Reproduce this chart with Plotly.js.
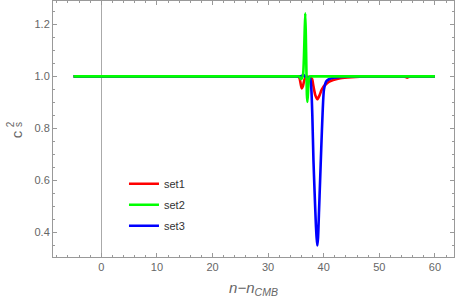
<!DOCTYPE html>
<html><head><meta charset="utf-8">
<script src="https://cdn.plot.ly/plotly-3.0.1.min.js"></script>
<style>html,body{margin:0;padding:0;background:#fff;}#chart{width:457px;height:305px;}</style>
</head><body><div id="chart"></div>
<script>
// set1 (red)
const set1X = [-5, 20, 34.8, 35.4, 35.65, 35.85, 36.05, 36.25, 36.5, 36.8, 37.2, 37.6, 37.9, 38.15, 38.5, 38.85, 39.2, 39.6, 40.0, 40.5, 41.1, 41.7, 43.0, 45.0, 48.0, 51.0, 54.0, 54.4, 54.8, 55.0, 55.2, 55.6, 56.0, 60];
const set1Y = [1, 1, 1, 1, 0.993, 0.972, 0.954, 0.962, 0.985, 0.997, 0.998, 0.996, 0.99, 0.962, 0.927, 0.912, 0.925, 0.947, 0.962, 0.972, 0.981, 0.986, 0.993, 0.997, 1, 1, 1, 1, 0.997, 0.995, 0.997, 1, 1, 1];
// set2 (green)
const set2X = [-5, 20, 35.0, 35.6, 35.85, 36.1, 36.3, 36.45, 36.58, 36.68, 36.78, 36.88, 36.97, 37.05, 37.15, 37.3, 37.5, 38.0, 45.0, 60];
const set2Y = [1, 1, 1, 1, 0.99, 0.993, 1.01, 1.08, 1.18, 1.242, 1.16, 1.03, 0.93, 0.902, 0.93, 0.98, 1, 1, 1, 1];
// set3 (blue)
const set3X = [-5, 20, 35.3, 35.9, 36.2, 36.4, 36.6, 36.9, 37.3, 37.6, 37.8, 37.95, 38.15, 38.35, 38.55, 38.72, 38.85, 38.98, 39.15, 39.35, 39.55, 39.8, 40.05, 40.5, 41.0, 41.7, 43.0, 45.0, 47.0, 53.0, 60];
const set3Y = [1, 1, 1, 1, 1.003, 1.005, 1.0, 0.998, 0.997, 0.99, 0.94, 0.85, 0.68, 0.56, 0.45, 0.38, 0.35, 0.38, 0.48, 0.6, 0.72, 0.86, 0.95, 0.982, 0.99, 0.995, 0.998, 1, 1, 1, 1];
const names = ['set1', 'set2', 'set3'];
const colors = ['#ff0000', '#00ff00', '#0000ff'];

const mk = (x, y, i, rank) => ({
  x: x, y: y, name: names[i], type: 'scatter', mode: 'lines',
  line: {color: colors[i], width: 2.6, shape: 'spline', smoothing: 0.6},
  legendrank: rank, legendgroup: names[i]
});
const data = [mk(set1X, set1Y, 0, 1), mk(set3X, set3Y, 2, 3), mk(set2X, set2Y, 1, 2)];

const tickFont = {family: 'Liberation Sans, Arial, sans-serif', size: 11, color: '#666'};
const axisCommon = {
  showline: true, linecolor: '#999', linewidth: 1, mirror: 'allticks',
  ticks: 'inside', ticklen: 4, tickcolor: '#999', tickwidth: 1,
  showgrid: false, tickfont: tickFont
};
const layout = {
  width: 457, height: 305,
  margin: {l: 53, r: 3, t: 1, b: 48},
  paper_bgcolor: '#fff', plot_bgcolor: '#fff',
  showlegend: true,
  legend: {x: 0.177, y: 0.343, xanchor: 'left', yanchor: 'top', traceorder: 'grouped', tracegroupgap: 2,
    font: {family: 'Liberation Sans, Arial, sans-serif', size: 11, color: '#333'}, bgcolor: 'rgba(0,0,0,0)'},
  xaxis: Object.assign({}, axisCommon, {
    range: [-8.69, 63.43], tick0: 0, dtick: 10,
    zeroline: true, zerolinecolor: '#aaa', zerolinewidth: 1,
    minor: {ticks: 'inside', dtick: 2, ticklen: 2, tickcolor: '#999'},
    title: {text: '<i>n−n<sub>CMB</sub></i>', font: {family: 'Liberation Sans, Arial, sans-serif', size: 15, color: '#666'}, standoff: 10}
  }),
  yaxis: Object.assign({}, axisCommon, {
    range: [0.306, 1.2896], tick0: 0, dtick: 0.2, tickformat: '.1f', zeroline: false,
    minor: {ticks: 'inside', dtick: 0.05, ticklen: 2, tickcolor: '#999'}
  }),
  annotations: [
    {text: 'c', xref: 'paper', yref: 'paper', x: -0.092, y: 0.48, xanchor: 'center', yanchor: 'middle', showarrow: false, textangle: -90,
      font: {family: 'Liberation Sans, Arial, sans-serif', size: 15, color: '#666'}},
    {text: '2', xref: 'paper', yref: 'paper', x: -0.106, y: 0.52, xanchor: 'center', yanchor: 'middle', showarrow: false, textangle: -90,
      font: {family: 'Liberation Sans, Arial, sans-serif', size: 10, color: '#666'}},
    {text: 's', xref: 'paper', yref: 'paper', x: -0.086, y: 0.518, xanchor: 'center', yanchor: 'middle', showarrow: false, textangle: -90,
      font: {family: 'Liberation Sans, Arial, sans-serif', size: 10, color: '#666'}}
  ]
};
Plotly.newPlot('chart', data, layout, {staticPlot: true, displayModeBar: false});
</script></body></html>
